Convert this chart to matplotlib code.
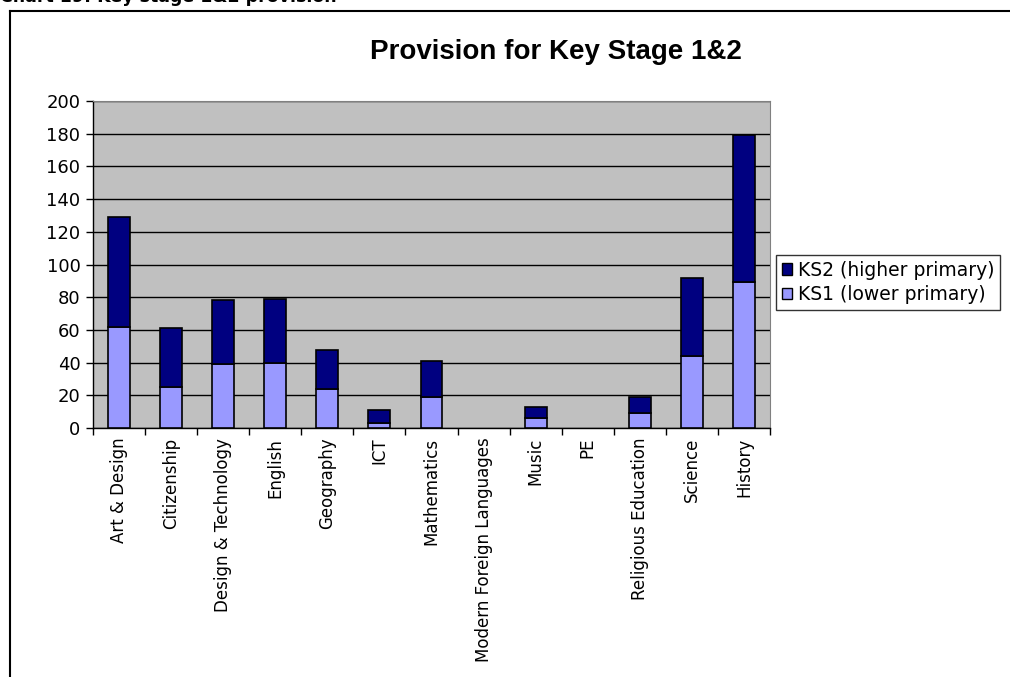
import matplotlib.pyplot as plt
from matplotlib.lines import Line2D
from matplotlib.patches import Patch
import numpy as np

# subjects and counts per key stage
subjects = ["Art & Design", "Citizenship", "Design & Technology", "English",
            "Geography", "ICT", "Mathematics", "Modern Foreign Languages",
            "Music", "PE", "Religious Education", "Science", "History"]
ks1 = [62, 25, 39, 40, 24, 3, 19, 0, 6, 0, 9, 44, 89]
ks2 = [67, 36, 39, 39, 24, 8, 22, 0, 7, 0, 10, 48, 90]
yticks = list(range(0, 201, 20))

ks1_col = "#9999FF"
ks2_col = "#000080"

fig = plt.figure(figsize=(10.10, 6.77), dpi=100)
ax = fig.add_axes([93 / 1010, 1 - 428 / 677, (770 - 93) / 1010, (428 - 101) / 677])
ax.set_facecolor("#C0C0C0")

x = np.arange(len(subjects))
b1 = ax.bar(x, ks1, width=0.42, color=ks1_col, edgecolor="black", linewidth=1.2, zorder=3)
b2 = ax.bar(x, ks2, width=0.42, bottom=ks1, color=ks2_col, edgecolor="black",
            linewidth=1.2, zorder=3)
# empty categories get no outline at all
for bars, vals in ((b1, ks1), (b2, ks2)):
    for rect, v in zip(bars, vals):
        if v == 0:
            rect.set_visible(False)

ax.set_xlim(-0.5, len(subjects) - 0.5)
ax.set_ylim(0, 200)
ax.set_yticks(yticks)
ax.set_yticklabels([str(v) for v in yticks], fontsize=13)
ax.yaxis.grid(True, color="black", linewidth=1, zorder=1)
ax.set_axisbelow(True)

# category labels sit between the boundary ticks, like a spreadsheet chart
ax.set_xticks(np.arange(len(subjects) + 1) - 0.5)
ax.set_xticklabels([])
ax.set_xticks(x, minor=True)
ax.set_xticklabels(subjects, minor=True, rotation=90, fontsize=12, va="top")
ax.tick_params(axis="x", which="minor", length=0, pad=7)
ax.tick_params(axis="x", which="major", direction="out", length=5, width=1)
ax.tick_params(axis="y", direction="out", length=5, width=1, pad=4)

for side in ["top", "right"]:
    ax.spines[side].set_color("#808080")
for side in ["left", "bottom"]:
    ax.spines[side].set_color("black")
    ax.spines[side].set_linewidth(1)

fig.text(556 / 1010, 1 - 52 / 677, "Provision for Key Stage 1&2",
         fontsize=20, fontweight="bold", family="Liberation Sans",
         ha="center", va="center")

handles = [Patch(facecolor=ks2_col, edgecolor="black"),
           Patch(facecolor=ks1_col, edgecolor="black")]
leg = fig.legend(handles, ["KS2 (higher primary)", "KS1 (lower primary)"],
                 loc="upper left", bbox_to_anchor=(776 / 1010, 1 - 255 / 677),
                 fontsize=13.5, frameon=True, fancybox=False, edgecolor="black",
                 handlelength=0.55, handleheight=0.55, handletextpad=0.3,
                 borderpad=0.3, labelspacing=0.3, borderaxespad=0)
leg.get_frame().set_linewidth(1)

# chart frame and the caption above it
fig.add_artist(Line2D([10 / 1010, 10 / 1010], [0, 1 - 11 / 677], color="black", lw=1.5))
fig.add_artist(Line2D([10 / 1010, 1], [1 - 11 / 677, 1 - 11 / 677], color="black", lw=1.5))
fig.text(0, 1 - 6 / 677, "Chart 19: Key stage 1&2 provision", fontsize=12.5,
         fontweight="bold", ha="left", va="bottom")

fig.savefig("out.png", dpi=100)
